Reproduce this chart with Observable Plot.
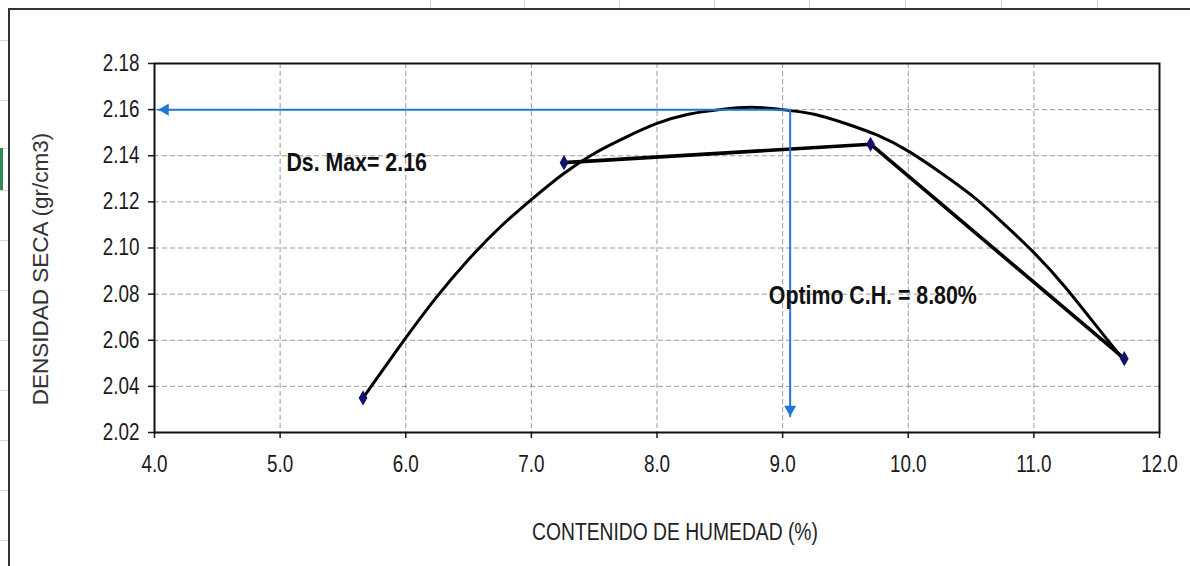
<!DOCTYPE html>
<html>
<head>
<meta charset="utf-8">
<script src="https://cdn.jsdelivr.net/npm/d3@7"></script>
<script src="https://cdn.jsdelivr.net/npm/@observablehq/plot@0.6"></script>
<style>
  html, body { margin: 0; padding: 0; background: #fff; }
  #wrap { position: relative; width: 1190px; height: 566px; overflow: hidden; background: #fff; }
  #wrap svg { position: absolute; left: 0; top: 0; }
  .frame { position: absolute; left: 8px; top: 8px; width: 1200px; height: 600px;
           border-left: 2px solid #333; border-top: 2px solid #333; pointer-events: none; }
  .col { position: absolute; top: 0; width: 1px; height: 8px; background: #d4d4d4; }
  .green { position: absolute; left: 0; top: 148px; width: 3px; height: 42px; background: #2e8b57; }
  .rowline { position: absolute; left: 0; width: 8px; height: 1px; background: #d8d8d8; }
</style>
</head>
<body>
<div id="wrap"></div>
<script>
// ---- data ----
const xTicks = [4, 5, 6, 7, 8, 9, 10, 11, 12];
const yTicks = [2.02, 2.04, 2.06, 2.08, 2.10, 2.12, 2.14, 2.16, 2.18];

// measured points (contenido de humedad %, densidad seca gr/cm3)
const humedad = [5.66, 7.26, 9.70, 11.72];
const densidad = [2.035, 2.137, 2.145, 2.052];

// compaction curve
const curveX = [5.66, 5.75, 6.0, 6.25, 6.5, 6.75, 7.0, 7.25, 7.5, 7.75, 8.0, 8.25, 8.5,
                8.75, 9.0, 9.25, 9.5, 9.75, 10.0, 10.25, 10.5, 10.75, 11.0, 11.25, 11.5, 11.72];
const curveY = [2.035, 2.042, 2.061, 2.079, 2.095, 2.109, 2.121, 2.132, 2.141, 2.148, 2.154, 2.158, 2.160,
                2.161, 2.160, 2.158, 2.154, 2.149, 2.142, 2.133, 2.123, 2.111, 2.098, 2.083, 2.066, 2.051];

// guide arrows
const optimoX = 9.06;
const dsMax = 2.16;
const arrowLeftX = 4.03;
const arrowBottomY = 2.027;

const labelDs = "Ds. Max= 2.16";
const labelOpt = "Optimo C.H. = 8.80%";
const dsPos = {x: 5.05, y: 2.137};
const optPos = {x: 8.89, y: 2.0794};
const xLabel = "CONTENIDO DE HUMEDAD (%)";
const yLabel = "DENSIDAD SECA (gr/cm3)";

// ---- build tables ----
const points = humedad.map((x, i) => ({x, y: densidad[i]}));
const joined = points.slice(1); // straight segments join the last three points
const curve = curveX.map((x, i) => ({x, y: curveY[i]}));
const hLine = [{x: optimoX, y: dsMax}, {x: arrowLeftX, y: dsMax}];
const vLine = [{x: optimoX, y: dsMax}, {x: optimoX, y: arrowBottomY}];

const sans = "'Liberation Sans',Arial,Helvetica,sans-serif";
const blue = "#1f78d6";

const chart = Plot.plot({
  width: 1190,
  height: 566,
  marginLeft: 154,
  marginRight: 31,
  marginTop: 63,
  marginBottom: 134,
  style: {fontFamily: sans, fontSize: "23px", color: "#1a1a1a", background: "transparent", overflow: "visible"},
  x: {domain: [4, 12]},
  y: {domain: [2.02, 2.18]},
  marks: [
    Plot.gridX(xTicks, {stroke: "#9a9a9a", strokeOpacity: 1, strokeDasharray: "5,3", strokeWidth: 1}),
    Plot.gridY(yTicks, {stroke: "#9a9a9a", strokeOpacity: 1, strokeDasharray: "5,3", strokeWidth: 1}),
    Plot.axisX(xTicks, {tickFormat: d3.format(".1f"), tickSize: 6, tickPadding: 17, label: null, strokeWidth: 1.5}),
    Plot.axisY(yTicks, {tickFormat: d3.format(".2f"), tickSize: 6, tickPadding: 9, label: null, strokeWidth: 1.5}),
    Plot.frame({stroke: "#111", strokeWidth: 2}),
    Plot.line(curve, {x: "x", y: "y", curve: "natural", stroke: "#000", strokeWidth: 3}),
    Plot.line(joined, {x: "x", y: "y", stroke: "#000", strokeWidth: 3.6}),
    Plot.line(hLine, {x: "x", y: "y", stroke: blue, strokeWidth: 2}),
    Plot.line(vLine, {x: "x", y: "y", stroke: blue, strokeWidth: 2}),
    Plot.dot([hLine[1]], {x: "x", y: "y", symbol: "triangle", rotate: -90, r: 4.5, dx: 7, fill: blue, stroke: "none"}),
    Plot.dot([vLine[1]], {x: "x", y: "y", symbol: "triangle", rotate: 180, r: 4.5, dy: -7, fill: blue, stroke: "none"}),
    Plot.dot(points, {x: "x", y: "y", symbol: "diamond", r: 4.6, fill: "#12126e", stroke: "none"}),
    Plot.text([dsPos], {x: "x", y: "y", text: () => labelDs, textAnchor: "start", fontWeight: "bold", fontSize: 26, fill: "#111"}),
    Plot.text([optPos], {x: "x", y: "y", text: () => labelOpt, textAnchor: "start", fontWeight: "bold", fontSize: 26, fill: "#111"}),
    Plot.text([xLabel], {text: d => d, frameAnchor: "bottom", textAnchor: "middle", lineAnchor: "middle",
                          dy: 100, dx: 18, fontSize: 23.5, fill: "#222"}),
    Plot.text([yLabel], {text: d => d, frameAnchor: "left", textAnchor: "middle", lineAnchor: "middle",
                          rotate: -90, dx: -114, dy: 21, fontSize: 22.5, fill: "#333"})
  ]
});

const wrap = document.getElementById("wrap");
wrap.appendChild(chart);

// narrow face (like Arial Narrow): compress every text except the y label
chart.querySelectorAll("text").forEach(t => {
  if (t.textContent === yLabel) return;
  const w = t.getComputedTextLength();
  if (w > 0) {
    t.setAttribute("textLength", (w * 0.82).toFixed(2));
    t.setAttribute("lengthAdjust", "spacingAndGlyphs");
  }
});

// spreadsheet backdrop around the chart object
const deco = [];
deco.push('<div class="frame"></div>');
[430, 524, 619, 714, 809, 905, 1001, 1097].forEach(x => deco.push(`<div class="col" style="left:${x}px"></div>`));
[40, 100, 148, 190, 240, 290, 340, 390, 440, 490, 540].forEach(y => deco.push(`<div class="rowline" style="top:${y}px"></div>`));
deco.push('<div class="green"></div>');
wrap.insertAdjacentHTML("beforeend", deco.join(""));
</script>
</body>
</html>
